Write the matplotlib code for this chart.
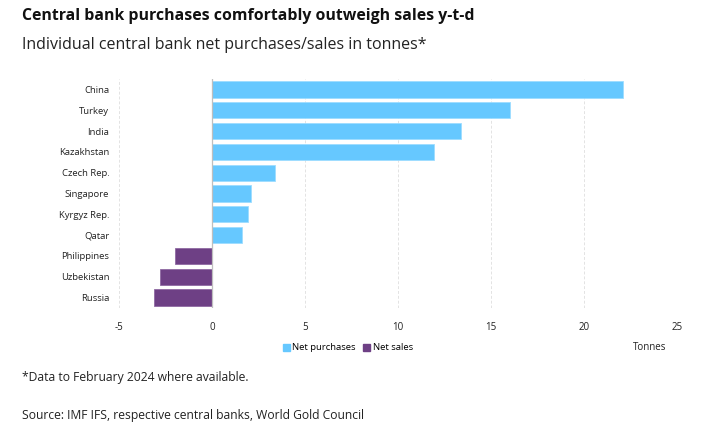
import matplotlib
matplotlib.use("Agg")
import matplotlib.pyplot as plt
from matplotlib.patches import Patch

plt.rcParams['font.family'] = ['Open Sans', 'DejaVu Sans']

countries = ["China", "Turkey", "India", "Kazakhstan", "Czech Rep.", "Singapore",
             "Kyrgyz Rep.", "Qatar", "Philippines", "Uzbekistan", "Russia"]
values = [22.1, 16.0, 13.4, 11.95, 3.4, 2.1, 1.95, 1.6, -2.0, -2.8, -3.1]
xticks = [-5, 0, 5, 10, 15, 20, 25]

blue = "#66C8FF"
purple = "#6E4085"
colors = [blue if v >= 0 else purple for v in values]
edges = ["#9ddcff" if v >= 0 else "#8f6aa3" for v in values]

fig = plt.figure(figsize=(7.19, 4.33), dpi=100)
ax = fig.add_axes([119/719, 1-308/433, 558/719, (308-79)/433])

y = list(range(len(countries)))
ax.barh(y, values, height=0.78, color=colors, edgecolor=edges, linewidth=0.6, zorder=3)
ax.set_ylim(len(countries)-0.5, -0.5)
ax.set_xlim(-5, 25)
ax.set_yticks(y)
ax.set_yticklabels(countries, fontsize=6.8, color="#222222")
ax.set_xticks(xticks)
ax.set_xticklabels([str(t) for t in xticks], fontsize=7, color="#222222")
ax.tick_params(axis='both', length=0)
ax.tick_params(axis='y', pad=7)
ax.tick_params(axis='x', pad=10)
for s in ax.spines.values():
    s.set_visible(False)
for t in xticks:
    if t == 0:
        ax.axvline(0, color="#bfbfbf", lw=0.9, zorder=4)
    else:
        ax.axvline(t, color="#e3e3e3", lw=0.7, ls=(0, (3, 2)), zorder=1)

handles = [Patch(color=blue, label="Net purchases"), Patch(color=purple, label="Net sales")]
fig.legend(handles=handles, loc='center', bbox_to_anchor=(348/719, 1-348/433), ncol=2,
           frameon=False, fontsize=6.8, handlelength=0.7, handleheight=0.7,
           handletextpad=0.3, columnspacing=0.8)
fig.text(650/719, 1-348/433, "Tonnes", fontsize=7, ha='center', va='center', color="#222222")

fig.text(22/719, 1-16/433, "Central bank purchases comfortably outweigh sales y-t-d",
         fontsize=11.4, fontweight='bold', ha='left', va='center', color="#111111")
fig.text(22/719, 1-45/433, "Individual central bank net purchases/sales in tonnes*",
         fontsize=11.5, ha='left', va='center', color="#222222")
fig.text(22/719, 1-377/433, "*Data to February 2024 where available.",
         fontsize=8.7, ha='left', va='center', color="#222222")
fig.text(22/719, 1-416/433, "Source: IMF IFS, respective central banks, World Gold Council",
         fontsize=8.75, ha='left', va='center', color="#222222")

fig.savefig("out.png", dpi=100)
